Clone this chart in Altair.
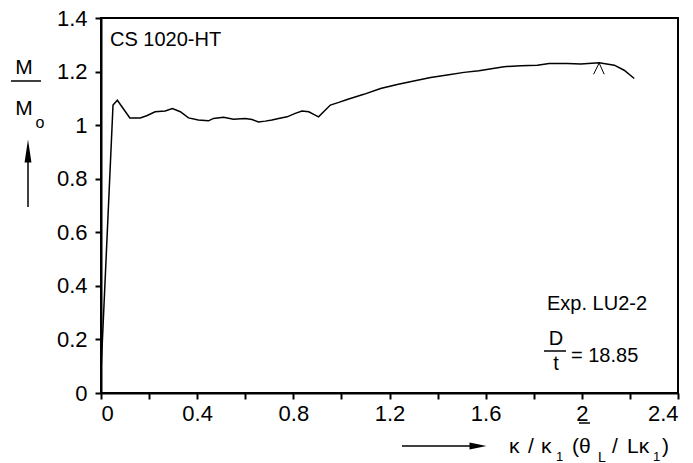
import altair as alt
import pandas as pd

# ---- data ----
x_vals = [0.0, 0.05, 0.068, 0.12, 0.163, 0.19, 0.225, 0.267, 0.297, 0.33, 0.364, 0.405,
          0.447, 0.468, 0.51, 0.551, 0.6, 0.628, 0.655, 0.683, 0.711, 0.739, 0.774,
          0.808, 0.836, 0.864, 0.885, 0.905, 0.926, 0.954, 0.989, 1.024, 1.093, 1.163,
          1.232, 1.301, 1.371, 1.44, 1.51, 1.572, 1.676, 1.746, 1.815, 1.864, 1.94,
          1.996, 2.072, 2.135, 2.176, 2.218]
y_vals = [0.08, 1.075, 1.093, 1.027, 1.027, 1.035, 1.05, 1.053, 1.062, 1.05, 1.027, 1.019,
          1.016, 1.025, 1.029, 1.022, 1.025, 1.021, 1.012, 1.015, 1.019, 1.025, 1.031,
          1.044, 1.053, 1.05, 1.04, 1.031, 1.05, 1.075, 1.085, 1.096, 1.115, 1.137,
          1.152, 1.165, 1.178, 1.187, 1.197, 1.203, 1.218, 1.222, 1.224, 1.23, 1.23,
          1.228, 1.233, 1.224, 1.205, 1.174]
caret_x = [2.049, 2.072, 2.093]
caret_y = [1.19, 1.232, 1.19]
x_ticks = [0, 0.2, 0.4, 0.6, 0.8, 1.0, 1.2, 1.4, 1.6, 1.8, 2.0, 2.2, 2.4]
y_ticks = [0, 0.2, 0.4, 0.6, 0.8, 1.0, 1.2, 1.4]

OX, OY = 101, 18
W, H = 577, 375
FONT = "Liberation Sans"

curve_df = pd.DataFrame({"x": x_vals, "y": y_vals, "o": list(range(len(x_vals)))})
caret_df = pd.DataFrame({"x": caret_x, "y": caret_y, "o": [0, 1, 2]})
dummy = pd.DataFrame({"d": [0]})

x_scale = alt.Scale(domain=[0, 2.4], nice=False, zero=False)
y_scale = alt.Scale(domain=[0, 1.4], nice=False, zero=False)

curve = alt.Chart(curve_df).mark_line(color="black", strokeWidth=1.5).encode(
    x=alt.X("x:Q", scale=x_scale,
            axis=alt.Axis(values=x_ticks, title=None, format="~g",
                          labelExpr="abs(round(datum.value*10)) % 4 == 0 ? datum.label : ''",
                          labelPadding=4)),
    y=alt.Y("y:Q", scale=y_scale,
            axis=alt.Axis(values=y_ticks, title=None, format="~g", labelPadding=8)),
    order="o:Q",
)

caret = alt.Chart(caret_df).mark_line(color="black", strokeWidth=1).encode(
    x=alt.X("x:Q", scale=x_scale), y=alt.Y("y:Q", scale=y_scale), order="o:Q")


def txt(s, px, py, size, align="left"):
    return alt.Chart(dummy).mark_text(
        text=s, align=align, baseline="alphabetic", fontSize=size, font=FONT, color="black"
    ).encode(x=alt.value(px - OX), y=alt.value(py - OY))


def hrule(x1, x2, y, w=1.5):
    return alt.Chart(dummy).mark_rule(color="black", strokeWidth=w).encode(
        x=alt.value(x1 - OX), x2=alt.value(x2 - OX), y=alt.value(y - OY))


def vrule(x, y1, y2, w=1.5):
    return alt.Chart(dummy).mark_rule(color="black", strokeWidth=w).encode(
        x=alt.value(x - OX), y=alt.value(y1 - OY), y2=alt.value(y2 - OY))


def head(px, py, path, size):
    return alt.Chart(dummy).mark_point(
        shape=path, filled=True, size=size, color="black", opacity=1, strokeWidth=0
    ).encode(x=alt.value(px - OX), y=alt.value(py - OY))


layers = [
    curve, caret,
    txt("CS 1020-HT", 110, 46, 20),
    txt("Exp. LU2-2", 547, 310, 20),
    txt("D", 556, 345, 20, "center"), hrule(544, 566, 351), txt("t", 556, 370, 20, "center"),
    txt("= 18.85", 571, 362, 20),
    # y-axis title
    txt("M", 24, 74, 21, "center"), hrule(11, 41, 81), txt("M", 24, 115, 21, "center"),
    txt("o", 40, 128, 16, "center"),
    vrule(28, 160, 207), head(28, 151, "M-0.3,1L0,-1L0.3,1Z", 529),
    # x-axis title
    hrule(402, 478, 446), head(478, 446, "M-1,-0.4L1,0L-1,0.4Z", 289),
    txt("\u03ba", 509, 453, 21), txt("/", 528, 453, 21), txt("\u03ba", 541, 453, 21),
    txt("1", 556, 461, 13),
    txt("(", 572, 453, 21), txt("\u03b8", 579, 453, 21), hrule(579, 590, 423, 1.5),
    txt("L", 598, 462, 14),
    txt("/", 612, 453, 21), txt("L\u03ba", 627, 453, 21), txt("1", 653, 461, 13),
    txt(")", 662, 453, 21),
]

chart = alt.layer(*layers).properties(
    width=W, height=H,
    padding={"left": OX, "top": OY, "right": 693 - OX - W, "bottom": 463 - OY - H},
    autosize=alt.AutoSizeParams(type="none"),
).configure_view(
    stroke="black", strokeWidth=2
).configure_axis(
    grid=False, domainColor="black", domainWidth=2, tickColor="black", tickWidth=2,
    tickSize=6, labelFont=FONT, labelFontSize=22, labelColor="black",
)

chart.save("out.html", embed_options={"renderer": "svg", "actions": False})
